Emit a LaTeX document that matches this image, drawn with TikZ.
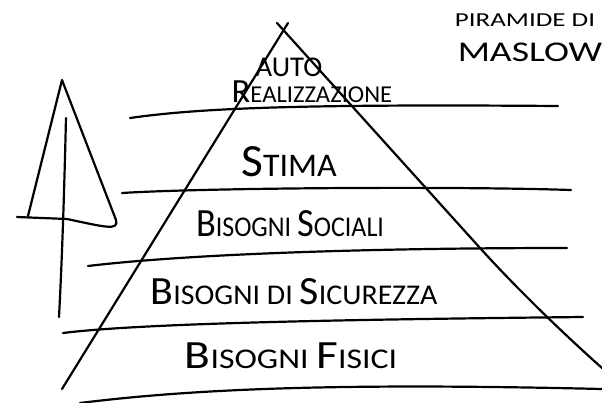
\documentclass[tikz,border=0pt]{standalone}
\usepackage{graphicx}
\usepackage{fontspec}
\setmainfont{Carlito}
\newcommand{\hcap}[1]{\scalebox{1.4}{#1}}
\newcommand{\fs}[1]{\fontsize{#1}{#1}\selectfont}
\tikzset{
  pen/.style={line width=2.2pt, line cap=round, line join=round},
  hand/.style={font=\fs{26}, inner sep=0pt, yscale=1.1},
}
\begin{document}
\begin{tikzpicture}[x=1pt,y=-1pt]
	\useasboundingbox (0,0) rectangle (602,402);
	% sides of the pyramid, crossed at the top
	\draw[pen] (288,23) -- (62,389);
	\draw[pen] (277,23) -- (480,248) .. controls (520,292) and (565,335) .. (602,368);
	% levels
	\draw[pen] (130,118) .. controls (200,108) and (300,104) .. (558,106);
	\draw[pen] (122,193) .. controls (200,188) and (450,186) .. (571,190);
	\draw[pen] (88,266) .. controls (180,255) and (350,248) .. (567,248);
	\draw[pen] (63,333) .. controls (150,322) and (400,319) .. (583,317);
	\draw[pen] (80,403) .. controls (200,388) and (350,383) .. (602,389);
	% arrow on the left
	\draw[pen] (28,216) -- (62,80) -- (116,220) .. controls (119,231) and (105,227) .. (67,219) -- (17,217);
	\draw[pen] (66,118) .. controls (64,200) and (62,260) .. (59,317);
	% labels
	\node[hand, xscale=1.1] (auto) at (289,67) {AUTO};
	\node[hand, font=\fs{22}, xscale=1.12] (real) at (312,92) {\hcap{R}EALIZZAZIONE};
	\node[hand, font=\fs{30}, xscale=1.13] (stima) at (289,162) {\hcap{S}TIMA};
	\node[hand] (soc) at (290,224) {\hcap{B}ISOGNI \hcap{S}OCIALI};
	\node[hand, xscale=1.15] (sic) at (294,292) {\hcap{B}ISOGNI DI \hcap{S}ICUREZZA};
	\node[hand, xscale=1.3] (fis) at (291,356) {\hcap{B}ISOGNI \hcap{F}ISICI};
	\node[hand, font=\fs{18}, xscale=1.5] (tit1) at (525,20) {PIRAMIDE DI};
	\node[hand, xscale=1.45] (tit2) at (530,52) {MASLOW};
\end{tikzpicture}
\end{document}
